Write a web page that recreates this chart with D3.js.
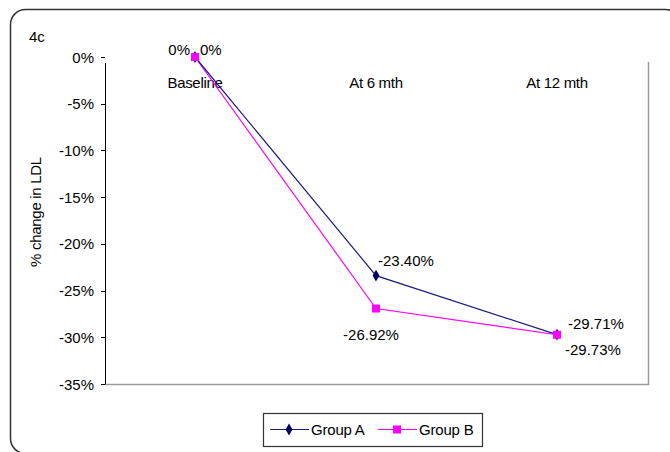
<!DOCTYPE html>
<html><head><meta charset="utf-8">
<script src="https://cdn.jsdelivr.net/npm/d3@7"></script>
<style>body{margin:0;background:#fff}svg{display:block;font-family:"Liberation Sans",Arial,sans-serif}</style>
</head><body><svg id="c" width="670" height="452"></svg>
<script>
const categories = ["Baseline", "At 6 mth", "At 12 mth"];
const groupA = [0, -23.40, -29.71];
const groupB = [0, -26.92, -29.73];
const yTicks = [0, -5, -10, -15, -20, -25, -30, -35];
const labelsA = ["0%", "-23.40%", "-29.71%"];
const labelsB = ["0%", "-26.92%", "-29.73%"];

const svg = d3.select("#c");
svg.append("rect").attr("x", 10.5).attr("y", 9.5).attr("width", 670).attr("height", 444)
  .attr("rx", 15).attr("fill", "none").attr("stroke", "#333").attr("stroke-width", 1.5);

const x = d3.scalePoint().domain(categories).range([195, 557]);
const y = d3.scaleLinear().domain([-35, 0]).range([384, 57]);

svg.append("path").attr("d", `M105,384.5H648.5V62`).attr("fill", "none").attr("stroke", "#9a9a9a").attr("stroke-width", 1.5);
svg.append("line").attr("x1", 105.5).attr("x2", 105.5).attr("y1", 63).attr("y2", 384.5).attr("stroke", "#000");
const g = svg.append("g");
yTicks.forEach(t => {
  g.append("line").attr("x1", 101).attr("x2", 105).attr("y1", Math.round(y(t)) + 0.5).attr("y2", Math.round(y(t)) + 0.5).attr("stroke", "#000");
  g.append("text").attr("x", 94).attr("y", y(t) + 5.5).attr("text-anchor", "end").attr("font-size", 15).attr("fill", "#000").text(t + "%");
});
categories.forEach(c => {
  svg.append("text").attr("x", x(c)).attr("y", 88).attr("text-anchor", "middle").attr("font-size", 15).attr("letter-spacing", -0.3).text(c);
});

const line = d3.line().x((d, i) => x(categories[i])).y(d => y(d));
svg.append("path").datum(groupB).attr("d", line).attr("fill", "none").attr("stroke", "#ff00ff").attr("stroke-width", 1.2);
svg.append("path").datum(groupA).attr("d", line).attr("fill", "none").attr("stroke", "#1c1c80").attr("stroke-width", 1.2);
const diamond = d3.symbol().type(d3.symbolDiamond).size(40);
groupA.forEach((v, i) => svg.append("path").attr("d", diamond).attr("transform", `translate(${x(categories[i])},${y(v)})`).attr("fill", "#000066"));
groupB.forEach((v, i) => svg.append("rect").attr("x", x(categories[i]) - 4).attr("y", y(v) - 4).attr("width", 8).attr("height", 8).attr("fill", "#ff00ff"));

const offA = [[5, -2, "start"], [2, -10, "start"], [11, -6, "start"]];
const offB = [[-5, -2, "end"], [-5, 31, "middle"], [8, 20, "start"]];
groupA.forEach((v, i) => svg.append("text").attr("x", x(categories[i]) + offA[i][0]).attr("y", y(v) + offA[i][1]).attr("text-anchor", offA[i][2]).attr("font-size", 15).text(labelsA[i]));
groupB.forEach((v, i) => svg.append("text").attr("x", x(categories[i]) + offB[i][0]).attr("y", y(v) + offB[i][1]).attr("text-anchor", offB[i][2]).attr("font-size", 15).text(labelsB[i]));

svg.append("text").attr("x", 29).attr("y", 42).attr("font-size", 15).text("4c");
svg.append("text").attr("transform", "translate(41,212) rotate(-90)").attr("text-anchor", "middle").attr("font-size", 15).attr("letter-spacing", -0.3).text("% change in LDL");

svg.append("rect").attr("x", 263.5).attr("y", 413.5).attr("width", 219).attr("height", 33).attr("fill", "#fff").attr("stroke", "#333").attr("stroke-width", 1.2);
svg.append("line").attr("x1", 270).attr("x2", 309).attr("y1", 429.5).attr("y2", 429.5).attr("stroke", "#1c1c80").attr("stroke-width", 1.2);
svg.append("path").attr("d", diamond).attr("transform", "translate(289,429.5)").attr("fill", "#000066");
svg.append("text").attr("x", 311).attr("y", 435).attr("font-size", 15).attr("letter-spacing", -0.2).text("Group A");
svg.append("line").attr("x1", 378).attr("x2", 417).attr("y1", 429.5).attr("y2", 429.5).attr("stroke", "#ff00ff").attr("stroke-width", 1.2);
svg.append("rect").attr("x", 393).attr("y", 425.5).attr("width", 8).attr("height", 8).attr("fill", "#ff00ff");
svg.append("text").attr("x", 419).attr("y", 435).attr("font-size", 15).attr("letter-spacing", -0.2).text("Group B");
</script></body></html>
